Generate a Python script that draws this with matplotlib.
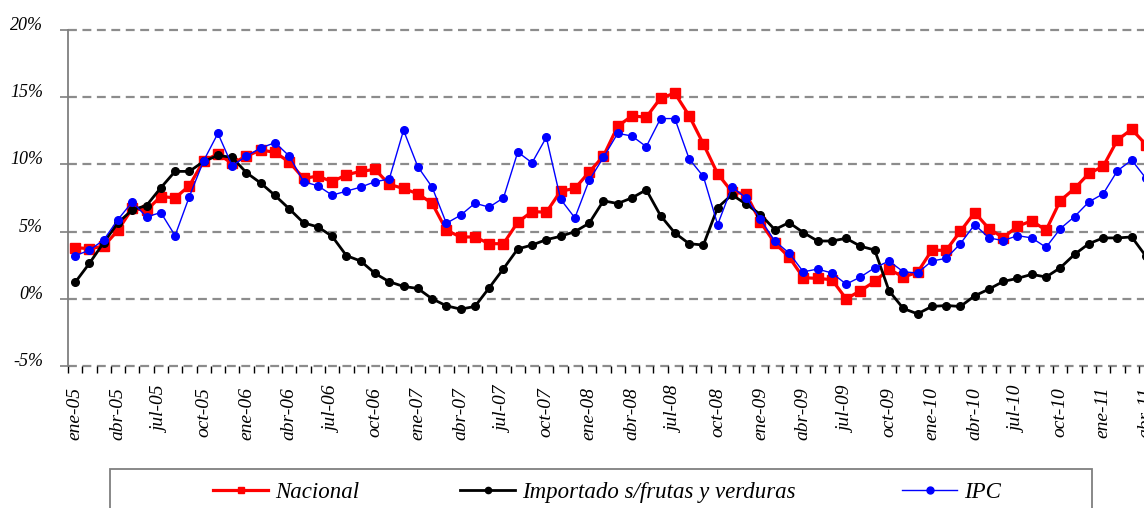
import matplotlib
matplotlib.use("Agg")
import matplotlib.pyplot as plt
from matplotlib.lines import Line2D
from matplotlib.patches import Rectangle
import numpy as np

months = ["ene", "feb", "mar", "abr", "may", "jun", "jul", "ago", "sep", "oct", "nov", "dic"]
years = ["05", "06", "07", "08", "09", "10", "11"]
categories = [f"{m}-{y}" for y in years for m in months][:76]

nacional = [3.81, 3.73, 3.91, 5.10, 6.72, 6.59, 7.61, 7.51, 8.41, 10.27,
            10.77, 10.07, 10.62, 11.07, 10.90, 10.17, 8.96, 9.13, 8.71, 9.23,
            9.48, 9.63, 8.51, 8.21, 7.81, 7.11, 5.10, 4.60, 4.60, 4.10,
            4.10, 5.70, 6.49, 6.44, 8.01, 8.21, 9.43, 10.62, 12.84, 13.61,
            13.51, 14.93, 15.30, 13.63, 11.52, 9.30, 7.96, 7.79, 5.70, 4.15,
            3.11, 1.57, 1.52, 1.42, 0.0, 0.60, 1.29, 2.21, 1.62, 1.97,
            3.61, 3.61, 5.02, 6.42, 5.22, 4.55, 5.40, 5.80, 5.10, 7.31,
            8.21, 9.33, 9.85, 11.82, 12.61, 11.47]

importado = [1.22, 2.64, 4.18, 5.65, 6.62, 6.94, 8.26, 9.48, 9.48, 10.22,
             10.67, 10.52, 9.38, 8.61, 7.69, 6.69, 5.65, 5.35, 4.65, 3.21,
             2.81, 1.89, 1.27, 0.92, 0.77, 0.0, -0.52, -0.77, -0.57, 0.82,
             2.24, 3.71, 4.00, 4.40, 4.65, 5.00, 5.62, 7.29, 7.09, 7.51,
             8.11, 6.19, 4.90, 4.10, 4.00, 6.79, 7.74, 7.04, 6.27, 5.15,
             5.67, 4.93, 4.30, 4.30, 4.50, 3.91, 3.63, 0.60, -0.72, -1.12,
             -0.57, -0.50, -0.57, 0.22, 0.72, 1.29, 1.52, 1.82, 1.62, 2.31,
             3.31, 4.10, 4.53, 4.53, 4.60, 3.16]

ipc = [3.21, 3.61, 4.38, 5.90, 7.21, 6.09, 6.42, 4.70, 7.61, 10.27,
       12.31, 9.90, 10.62, 11.22, 11.62, 10.62, 8.71, 8.41, 7.71, 8.01,
       8.31, 8.71, 8.91, 12.54, 9.83, 8.31, 5.62, 6.22, 7.11, 6.82,
       7.51, 10.92, 10.12, 12.01, 7.41, 6.02, 8.81, 10.52, 12.31, 12.11,
       11.32, 13.41, 13.41, 10.42, 9.10, 5.52, 8.31, 7.51, 5.92, 4.30,
       3.41, 2.01, 2.21, 1.92, 1.09, 1.62, 2.31, 2.81, 2.01, 1.92,
       2.81, 3.01, 4.10, 5.52, 4.53, 4.33, 4.70, 4.53, 3.83, 5.22,
       6.12, 7.21, 7.81, 9.53, 10.32, 8.96]

series_names = ["Nacional", "Importado s/frutas y verduras", "IPC"]
y_ticks = [-5, 0, 5, 10, 15, 20]
y_ticklabels = ["-5%", "0%", "5%", "10%", "15%", "20%"]

W, H = 1144, 508
fig = plt.figure(figsize=(W / 100, H / 100), dpi=100)
ax = fig.add_axes([68 / W, (H - 366) / H, 1 - 68 / W, (366 - 30) / H])

x = np.arange(len(categories))
ax.plot(x, nacional, color="#ff0000", lw=2.3, marker="s", ms=6.5, mec="#ff0000", zorder=3)
ax.plot(x, importado, color="black", lw=2.0, marker="o", ms=5.5, zorder=4)
ax.plot(x, ipc, color="#0000ff", lw=1.0, marker="o", ms=5.5, zorder=5)

for yv in y_ticks:
    ax.axhline(yv, color="#8c8c8c", lw=1.6, ls=(0, (4, 2.5)), zorder=1, clip_on=False)

for s in ["top", "right", "bottom"]:
    ax.spines[s].set_visible(False)
ax.spines["left"].set_color("#7f7f7f")
ax.spines["left"].set_linewidth(1.3)

ax.set_yticks(y_ticks)
ax.set_yticklabels(y_ticklabels, fontfamily="Liberation Serif", fontstyle="italic", fontsize=13)
ax.tick_params(axis="y", direction="out", length=6, width=1.2, color="#7f7f7f", pad=12)
for lab in ax.get_yticklabels():
    lab.set_verticalalignment("baseline")

label_font = dict(fontfamily="Liberation Serif", fontstyle="italic", fontsize=14)
major = x[::3]
ax.set_xticks(major)
ax.set_xticklabels([categories[i] for i in major], rotation=90, **label_font)
ax.set_xticks(np.arange(-0.5, len(categories), 1), minor=True)
ax.tick_params(axis="x", which="major", length=0, pad=15)
ax.tick_params(axis="x", which="minor", direction="out", length=5, width=1.0, color="black")

ax.set_ylim(-5, 20)
ax.set_xlim(-0.5, (W - 75) / 14.28)

# the last category label lies past the figure edge and is cut by it
last = major[-1]
ax.annotate(categories[last], xy=(last, 0), xycoords=("data", "axes fraction"),
            xytext=(0, -15), textcoords="offset points", rotation=90,
            ha="center", va="top", annotation_clip=False, **label_font)

# legend frame
fig.patches.append(Rectangle((110 / W, (H - 515) / H), (1092 - 110) / W, (515 - 469) / H,
                             transform=fig.transFigure, fill=False, ec="#7f7f7f", lw=1.3))

handles = [
    Line2D([], [], color="#ff0000", lw=2.3, marker="s", ms=5),
    Line2D([], [], color="black", lw=2.0, marker="o", ms=4.5),
    Line2D([], [], color="#0000ff", lw=1.0, marker="o", ms=5),
]
starts = [213, 460, 902]
for h, name, sx in zip(handles, series_names, starts):
    fig.legend(handles=[h], labels=[name], loc="center left",
               bbox_to_anchor=(sx / W, (H - 492) / H), bbox_transform=fig.transFigure,
               frameon=False, borderpad=0, borderaxespad=0,
               handlelength=2.4, handletextpad=0.3,
               prop={"family": "Liberation Serif", "style": "italic", "size": 16.5})

fig.savefig("out.png", dpi=100)
